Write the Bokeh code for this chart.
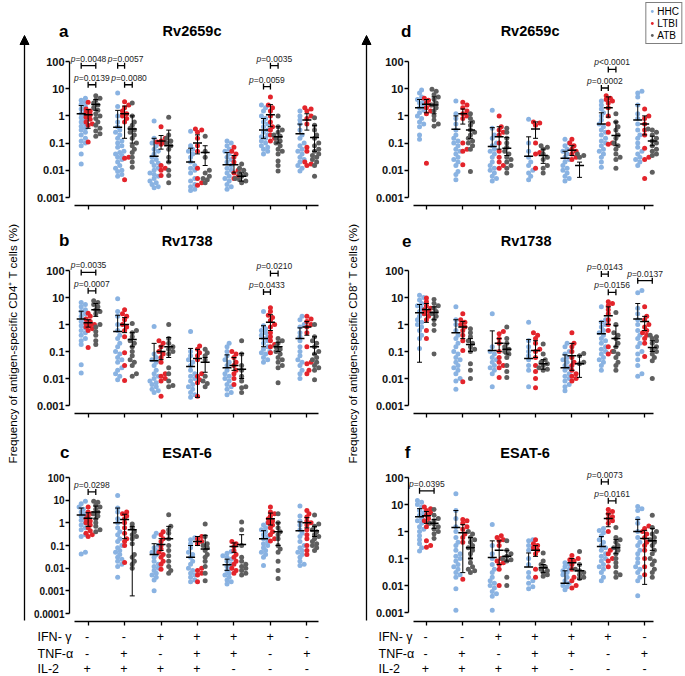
import numpy as np
from bokeh.plotting import figure
from bokeh.layouts import row, column
from bokeh.models import (Range1d, FixedTicker, CustomJSTickFormatter, Arrow,
                          NormalHead, Legend, LegendItem, LinearAxis)
from bokeh.core.properties import value
from bokeh.embed import file_html
from bokeh.resources import INLINE

# ---------------- data ----------------
GROUPS = [1, 2, 3, 4, 5, 6, 7]
SERIES = ["HHC", "LTBI", "ATB"]
IFN = ["-", "-", "+", "+", "+", "+", "-"]
TNF = ["-", "+", "-", "+", "+", "-", "+"]
IL2 = ["+", "+", "+", "+", "-", "-", "-"]
ROW_LABELS = ["IFN- \u03b3", "TNF-\u03b1", "IL-2"]

# Panel a: CD4, Rv2659c
A_HHC = [[4.5,3.8,3.2,2.7,2.2,1.8,1.5,1.2,1.0,0.85,0.7,0.6,0.5,0.42,0.35,0.3,0.25,0.2,0.15,0.12,0.1,0.08,0.04,0.017],
         [7,2.2,1.0,0.6,0.4,0.3,0.25,0.2,0.15,0.12,0.1,0.08,0.07,0.05,0.045,0.04,0.035,0.03,0.025,0.02,0.015,0.012,0.01,0.009,0.007,0.006],
         [0.65,0.15,0.1,0.08,0.06,0.05,0.04,0.03,0.025,0.02,0.018,0.015,0.012,0.01,0.008,0.007,0.006,0.005,0.004,0.0035,0.003,0.0025,0.0023],
         [0.27,0.08,0.06,0.05,0.04,0.03,0.02,0.015,0.012,0.01,0.008,0.005,0.004,0.003,0.0025,0.002,0.0018],
         [0.12,0.1,0.08,0.06,0.05,0.04,0.03,0.025,0.02,0.015,0.012,0.01,0.008,0.006,0.005,0.004,0.003,0.0025,0.002],
         [2.5,2.0,1.5,1.0,0.8,0.6,0.5,0.4,0.3,0.25,0.2,0.17,0.15,0.12,0.1,0.08,0.07,0.06,0.05,0.04],
         [1.5,1.0,0.7,0.5,0.3,0.2,0.15,0.1,0.08,0.06,0.05,0.04,0.03,0.025,0.02,0.015,0.012,0.0095]]
A_LTBI = [[3.2,1.8,1.5,1.3,1.1,0.9,0.75,0.6,0.5,0.45,0.11],
          [3.3,2.5,2.0,1.5,1.2,1.0,0.8,0.6,0.03,0.028,0.0045],
          [0.4,0.15,0.12,0.11,0.1,0.09,0.015,0.012,0.01,0.0065],
          [0.33,0.3,0.25,0.15,0.08,0.05,0.012,0.005,0.0035,0.0028],
          [0.07,0.05,0.04,0.03,0.02,0.01,0.008,0.006,0.005],
          [5.0,2.5,2.0,1.5,1.0,0.6,0.4,0.3,0.2,0.15,0.12],
          [2.0,1.8,1.5,1.0,0.8,0.5,0.07,0.05,0.02,0.017,0.015]]
A_ATB = [[5.5,4.5,3.8,3.0,2.5,2.0,1.6,1.2,1.0,0.8,0.6,0.45,0.35,0.28,0.22,0.18],
         [3.0,1.0,0.6,0.45,0.35,0.3,0.25,0.2,0.15,0.1,0.08,0.06,0.045,0.03,0.02,0.013],
         [0.9,0.2,0.15,0.12,0.1,0.08,0.06,0.03,0.02,0.01,0.0065,0.0035],
         [0.18,0.05,0.03,0.01,0.008,0.006,0.005,0.0045,0.0035],
         [0.017,0.012,0.01,0.008,0.007,0.006,0.005,0.0045,0.004,0.0035],
         [1.0,0.4,0.3,0.25,0.2,0.18,0.15,0.12,0.1,0.08,0.06,0.05,0.04,0.022,0.015,0.0095],
         [0.85,0.45,0.3,0.2,0.15,0.1,0.08,0.06,0.05,0.04,0.035,0.03,0.025,0.02,0.015,0.006]]
A_MEAN = [[1.2,1.1,2.6],[0.38,1.2,0.33],[0.033,0.12,0.08],[0.02,0.1,0.045],[0.016,0.016,0.006],[0.3,1.1,0.17],[0.22,0.7,0.16]]
A_LO = [[0,0.35,1.6],[0,0.15,0.1],[0,0.06,0.02],[0,0.04,0.015],[0,0.008,0.004],[0.15,0.4,0.1],[0,0.3,0.05]]
A_HI = [[2.4,1.7,4.0],[1.6,2.3,1.0],[0.15,0.19,0.3],[0.065,0.2,0.08],[0.045,0.035,0.008],[0.8,2.6,0.4],[0.5,1.2,0.45]]
A_P = [(1,0,2,70,"p=0.0048"),(1,1,2,14,"p=0.0139"),(2,0,1,70,"p=0.0057"),(2,1,2,14,"p=0.0080"),
       (6,1,2,70,"p=0.0035"),(6,0,1,12,"p=0.0059")]

# Panel b: CD4, Rv1738
B_HHC = [[6.5,5.5,4.5,3.5,3.0,2.5,2.0,1.6,1.3,1.1,0.9,0.75,0.6,0.5,0.4,0.3,0.25,0.18,0.032,0.016],
         [9,3.0,2.0,1.0,0.6,0.4,0.3,0.2,0.15,0.1,0.08,0.06,0.05,0.04,0.025,0.02,0.015,0.012,0.009],
         [0.85,0.08,0.06,0.05,0.04,0.03,0.02,0.015,0.012,0.01,0.008,0.007,0.006,0.005,0.004,0.0035,0.003],
         [0.55,0.1,0.07,0.05,0.04,0.03,0.02,0.015,0.012,0.01,0.008,0.006,0.005,0.004,0.003,0.0025,0.002],
         [0.2,0.15,0.1,0.07,0.05,0.04,0.03,0.02,0.015,0.012,0.01,0.008,0.006,0.005,0.004,0.003,0.0025],
         [3.0,0.9,0.7,0.6,0.5,0.4,0.35,0.3,0.25,0.2,0.15,0.12,0.1,0.09,0.08,0.06,0.05,0.04],
         [2.0,1.5,1.0,0.8,0.5,0.35,0.25,0.15,0.1,0.07,0.05,0.04,0.03,0.02,0.015,0.01]]
B_LTBI = [[2.6,2.0,1.6,1.3,1.1,1.0,0.9,0.8,0.7,0.6,0.14],
          [3.5,2.5,2.0,1.5,1.0,0.8,0.6,0.35,0.09,0.03,0.0085],
          [0.25,0.2,0.15,0.1,0.08,0.06,0.04,0.015,0.012,0.01,0.008,0.0022],
          [0.16,0.12,0.09,0.07,0.05,0.015,0.012,0.009,0.007,0.0022],
          [0.1,0.08,0.06,0.04,0.03,0.02,0.015,0.01,0.006],
          [4.2,3.0,2.2,1.8,1.4,1.0,0.8,0.5,0.35,0.25,0.18,0.15,0.09],
          [2.0,1.6,1.3,1.0,0.8,0.5,0.15,0.04,0.035,0.02,0.015]]
B_ATB = [[7.5,6.5,5.5,4.5,3.5,3.0,2.5,1.0,0.8,0.55,0.4,0.25,0.18],
         [1.1,0.6,0.5,0.35,0.25,0.2,0.15,0.1,0.07,0.05,0.04,0.03,0.015,0.012],
         [1.0,0.3,0.2,0.15,0.12,0.1,0.08,0.025,0.015,0.008,0.0055,0.005],
         [0.12,0.09,0.07,0.05,0.012,0.008,0.0065,0.005],
         [0.25,0.08,0.03,0.02,0.012,0.008,0.005,0.0045,0.003],
         [0.3,0.25,0.2,0.15,0.12,0.1,0.08,0.06,0.05,0.04,0.03,0.025,0.007],
         [1.0,0.35,0.25,0.2,0.15,0.1,0.08,0.06,0.05,0.04,0.03,0.025,0.02,0.009]]
B_MEAN = [[1.6,1.15,3.5],[0.55,1.0,0.28],[0.045,0.1,0.15],[0.028,0.055,0.04],[0.025,0.03,0.022],[0.3,1.2,0.15],[0.3,0.8,0.15]]
B_LO = [[0,0.8,2.0],[0,0.5,0.15],[0,0.05,0.06],[0,0.002,0.017],[0,0.02,0.01],[0.15,0.6,0.1],[0,0.4,0.08]]
B_HI = [[3.1,1.5,6.0],[2.2,1.8,0.5],[0.2,0.16,0.33],[0.13,0.12,0.06],[0.075,0.06,0.085],[0.9,2.3,0.22],[0.75,1.3,0.35]]
B_P = [(1,0,2,85,"p=0.0035"),(1,1,2,17.6,"p=0.0007"),(6,1,2,78,"p=0.0210"),(6,0,1,16,"p=0.0433")]

# Panel c: CD4, ESAT-6
C_HHC = [[9,7,5,4,3,2.5,2,1.6,1.3,1.0,0.8,0.6,0.5,0.3,0.25,0.05,0.042],
         [16,4.5,3,1.5,1.0,0.6,0.4,0.3,0.2,0.15,0.1,0.08,0.06,0.05,0.04,0.03,0.025,0.02,0.015,0.012,0.004],
         [0.35,0.25,0.1,0.08,0.06,0.05,0.04,0.03,0.02,0.015,0.012,0.01,0.008,0.006,0.005,0.004,0.003,0.001],
         [0.22,0.18,0.12,0.08,0.05,0.04,0.03,0.02,0.015,0.01,0.008,0.006,0.005,0.004,0.003,0.0025],
         [0.055,0.045,0.035,0.03,0.025,0.02,0.015,0.012,0.01,0.008,0.006,0.005,0.004,0.003,0.0025,0.002],
         [1.0,0.8,0.6,0.5,0.4,0.3,0.25,0.2,0.15,0.12,0.1,0.08,0.06,0.05,0.04,0.03,0.013],
         [5.5,2,1.2,0.8,0.5,0.35,0.25,0.15,0.1,0.08,0.06,0.05,0.04,0.03,0.02,0.015,0.013]]
C_LTBI = [[5,3,2.5,2,1.5,1.2,1.0,0.8,0.6,0.45,0.35,0.3,0.25],
          [3.0,2.5,2.0,1.5,1.0,0.6,0.35,0.2,0.15,0.1,0.018],
          [0.4,0.3,0.2,0.15,0.1,0.07,0.05,0.04,0.03,0.02,0.015,0.009],
          [0.25,0.2,0.15,0.12,0.01,0.008,0.006,0.005,0.0025],
          [0.15,0.12,0.09,0.06,0.04,0.03,0.02,0.015,0.01,0.008,0.006],
          [5.0,3.0,2.5,2.0,1.5,1.2,1.0,0.8,0.6,0.4,0.3,0.2,0.16],
          [3.5,2.5,1.8,1.2,1.0,0.8,0.5,0.3,0.2,0.1,0.06,0.04]]
C_ATB = [[9,8,6,5,4,3,2.5,2,1.5,1.0,0.7,0.5,0.4],
         [0.9,0.6,0.4,0.3,0.25,0.2,0.12,0.04,0.03,0.02,0.015,0.01],
         [2.3,0.7,0.5,0.35,0.2,0.1,0.06,0.035,0.02,0.012,0.008,0.006],
         [0.9,0.25,0.12,0.1,0.08,0.06,0.04,0.03,0.02,0.012,0.006,0.0028],
         [1.1,0.5,0.1,0.03,0.02,0.015,0.012,0.01,0.008,0.006,0.005],
         [2.5,1.0,0.6,0.4,0.3,0.2,0.1,0.07,0.05,0.02,0.008,0.0035],
         [2.2,0.9,0.7,0.5,0.4,0.3,0.25,0.2,0.15,0.12,0.1,0.08,0.06]]
C_MEAN = [[2.2,1.6,3.0],[1.0,1.4,0.5],[0.04,0.11,0.2],[0.03,0.15,0.07],[0.014,0.09,0.11],[0.2,1.5,0.4],[0.45,1.0,0.45]]
C_LO = [[0,0.7,1.5],[0,0.2,0.0006],[0,0.06,0],[0,0.1,0],[0.008,0.05,0],[0,0.8,0.1],[0,0.6,0.25]]
C_HI = [[4.5,2.8,5.5],[4.5,2.4,0.7],[0.12,0.2,0.7],[0.1,0.25,0.28],[0.025,0.13,0.3],[0.45,2.7,1.0],[1.1,1.7,0.7]]
C_P = [(1,1,2,23,"p=0.0298")]

# Panel d: CD8, Rv2659c
D_HHC = [[9,7,5,4,3.5,3,2.5,2,1.6,1.3,1.0,0.8,0.6,0.5,0.4,0.2,0.14],
         [3.5,1.2,0.8,0.5,0.3,0.2,0.15,0.12,0.1,0.08,0.06,0.05,0.04,0.03,0.025,0.02,0.015,0.009,0.007,0.0045],
         [1.6,0.35,0.2,0.15,0.1,0.08,0.06,0.05,0.04,0.03,0.02,0.015,0.012,0.01,0.008,0.006,0.005,0.004],
         [0.75,0.1,0.05,0.03,0.02,0.015,0.01,0.008,0.006,0.0045],
         [0.14,0.1,0.08,0.06,0.05,0.04,0.03,0.025,0.02,0.015,0.012,0.01,0.008,0.006,0.005,0.004],
         [3.5,2.5,1.8,1.3,1.0,0.7,0.5,0.4,0.3,0.25,0.2,0.15,0.12,0.1,0.08,0.06,0.05,0.04,0.03,0.02,0.013],
         [8,7,5,2.5,1.2,0.8,0.5,0.3,0.2,0.15,0.1,0.07,0.05,0.04,0.03,0.025,0.02,0.015]]
D_LTBI = [[4.5,3.8,3.0,2.5,2.0,1.5,1.2,0.018],
          [3.2,2.5,2.0,1.5,1.2,1.0,0.8,0.1,0.06,0.05,0.016],
          [1.0,0.4,0.3,0.25,0.2,0.1,0.05,0.03,0.02,0.015,0.012],
          [0.6,0.55,0.45,0.1,0.045,0.04,0.012],
          [0.14,0.1,0.08,0.06,0.05,0.04,0.03,0.025],
          [5.5,4.5,4.0,3.5,3.0,2.0,1.0,0.5,0.25,0.1,0.09],
          [1.8,1.0,0.8,0.5,0.3,0.2,0.065,0.03,0.025,0.005]]
D_ATB = [[9.5,8,6,5,4,3,2.5,2,1.5,1,0.7,0.5,0.42],
         [1.2,0.8,0.6,0.45,0.3,0.25,0.2,0.15,0.12,0.1,0.08,0.06,0.009],
         [0.35,0.25,0.15,0.1,0.07,0.05,0.04,0.03,0.025,0.02,0.015,0.012,0.008],
         [0.08,0.07,0.06,0.04,0.03,0.025,0.015,0.012,0.008],
         [0.04,0.035,0.03],
         [1.2,0.6,0.4,0.3,0.2,0.15,0.1,0.08,0.06,0.04,0.03,0.025,0.012],
         [0.33,0.3,0.25,0.2,0.15,0.12,0.1,0.08,0.06,0.05,0.04,0.035,0.0085]]
D_MEAN = [[2.0,2.7,2.5],[0.32,1.2,0.3],[0.075,0.17,0.065],[0.033,0.33,0.035],[0.028,0.055,0.015],[0.5,2.0,0.19],[0.7,0.5,0.12]]
D_LO = [[0,1.3,1.2],[0,0.5,0.15],[0,0.06,0.035],[0,0.15,0.018],[0,0.035,0.0055],[0,0.9,0.08],[0,0.2,0.08]]
D_HI = [[4.0,4.0,5.0],[1.0,1.8,0.6],[0.37,0.4,0.16],[0.17,0.6,0.06],[0.05,0.08,0.02],[1.3,5.0,0.6],[2.6,1.0,0.18]]
D_P = [(6,1,2,51,"p<0.0001"),(6,0,1,10.6,"p=0.0002")]

# Panel e: CD8, Rv1738
E_HHC = [[12,10,8,6,5,4,3,2.5,2,1.5,1.2,1,0.8,0.6,0.4,0.3,0.13],
         [4.5,1.5,1.0,0.6,0.4,0.3,0.2,0.15,0.1,0.08,0.06,0.05,0.04,0.03,0.025,0.02,0.015,0.01,0.008,0.004],
         [2.5,0.15,0.1,0.08,0.06,0.05,0.04,0.03,0.025,0.02,0.015,0.005],
         [1.2,0.25,0.15,0.1,0.07,0.05,0.03,0.02,0.005],
         [0.2,0.15,0.1,0.08,0.06,0.05,0.04,0.03,0.025,0.02,0.015,0.012,0.01,0.008,0.006,0.005,0.0035],
         [4.5,1.5,1.2,1.0,0.8,0.6,0.5,0.4,0.3,0.25,0.2,0.15,0.12,0.1,0.08,0.06,0.05,0.04,0.03,0.02],
         [18,15,4,2.5,1.5,1.0,0.6,0.4,0.3,0.2,0.15,0.1,0.08,0.05,0.03,0.015,0.012]]
E_LTBI = [[9.5,7,5,4,3.5,3,2.5,2,1.5,0.6,0.3],
          [2.5,1.5,1.2,1.0,0.8,0.6,0.4,0.25,0.11,0.0075],
          [0.55,0.45,0.3,0.2,0.1,0.06,0.04,0.03,0.025,0.011],
          [0.5,0.4,0.3,0.2,0.12,0.1,0.06,0.03,0.018,0.01,0.0045],
          [0.5,0.2,0.15,0.1,0.06,0.04,0.03,0.02,0.015,0.012,0.01,0.008],
          [7,6,5,3.5,2.5,1.5,1.0,0.6,0.15,0.1,0.08],
          [4.5,2,1.5,1.0,0.8,0.6,0.5,0.4,0.3,0.2,0.065]]
E_ATB = [[8.5,6,5,4,3,2.5,2,1.5,1.0,0.6,0.08],
         [0.7,0.5,0.35,0.25,0.2,0.15,0.12,0.1,0.035,0.02,0.01],
         [0.8,0.3,0.2,0.15,0.12,0.1,0.08,0.06,0.03,0.018,0.011],
         [0.19,0.08,0.05,0.04,0.035,0.03,0.025,0.022,0.02],
         [0.085,0.07,0.04,0.035],
         [2.8,1.0,0.5,0.4,0.3,0.2,0.15,0.1,0.08,0.06,0.04,0.03,0.02],
         [0.4,0.35,0.3,0.25,0.2,0.15,0.12,0.1,0.08,0.06,0.045,0.01]]
E_MEAN = [[2.7,3.6,2.8],[0.5,0.8,0.18],[0.11,0.2,0.12],[0.055,0.11,0.035],[0.025,0.07,0.035],[0.45,2.1,0.3],[1.6,1.3,0.14]]
E_LO = [[0.04,1.2,1.5],[0,0.3,0.1],[0,0.1,0.08],[0,0.06,0.022],[0,0.02,0.011],[0,1.0,0.15],[0,0.6,0.1]]
E_HI = [[5.5,6.0,4.5],[1.5,1.3,0.3],[0.58,0.3,0.2],[0.28,0.25,0.05],[0.075,0.2,0.07],[1.3,4.5,0.9],[6.0,2.0,0.25]]
E_P = [(6,0,1,74,"p=0.0143"),(6,1,2,15.6,"p=0.0156"),(7,0,2,42,"p=0.0137")]

# Panel f: CD8, ESAT-6
F_HHC = [[14,12,10,8,6,5,4,3,2.5,2,1.5,1.2,1.0,0.7,0.5,0.35,0.25,0.19],
         [25,6,3,1.5,1.0,0.6,0.4,0.3,0.2,0.15,0.12,0.1,0.08,0.06,0.05,0.04,0.03,0.025,0.02,0.0075,0.0012],
         [1.8,0.3,0.15,0.1,0.06,0.04,0.03,0.02,0.015,0.012,0.01,0.008,0.006,0.005,0.004,0.0012],
         [0.5,0.45,0.3,0.25,0.2,0.1,0.06,0.03,0.02,0.015,0.012,0.009,0.0075],
         [0.07,0.06,0.05,0.04,0.035,0.03,0.025,0.02,0.015,0.012,0.01,0.009,0.007],
         [1.3,1.1,0.9,0.7,0.5,0.4,0.3,0.25,0.2,0.15,0.12,0.1,0.08,0.06,0.05,0.04,0.03,0.02,0.015],
         [8.5,7,6,3,2,1.0,0.6,0.4,0.3,0.2,0.15,0.1,0.07,0.05,0.04,0.03,0.02,0.015,0.0042]]
F_LTBI = [[8,7,6,5,4,3,2.5,2,1.5,0.45,0.3,0.26],
          [2.8,2.5,2.0,1.5,1.2,0.8,0.6,0.4,0.017],
          [0.7,0.6,0.5,0.45,0.3,0.1,0.08,0.07,0.06,0.04,0.01],
          [0.5,0.35,0.3,0.25,0.2,0.15,0.04,0.02],
          [0.13,0.1,0.09,0.08,0.06,0.04,0.02,0.015,0.01,0.008],
          [6.5,5.5,4.5,3.5,3.0,2.5,2.0,1.0,0.2,0.15,0.1,0.08,0.05],
          [1.6,1.3,1.0,0.8,0.6,0.4,0.3,0.2,0.1,0.05,0.025]]
F_ATB = [[6.5,4,3,2.5,2,1.8,1.5,1.2,1.0,0.8,0.55],
         [1.0,0.8,0.6,0.5,0.4,0.3,0.25,0.2,0.15,0.1,0.07,0.05,0.04,0.035,0.03],
         [0.45,0.2,0.15,0.12,0.1,0.09,0.08,0.02,0.01],
         [0.16,0.08,0.06,0.05,0.04,0.035,0.03,0.025,0.022],
         [0.18,0.06,0.04,0.035,0.03,0.025,0.02,0.018],
         [1.4,0.6,0.5,0.4,0.3,0.25,0.2,0.15,0.1,0.07,0.05,0.03,0.025,0.02],
         [4.0,1.4,1.0,0.8,0.6,0.5,0.4,0.3,0.2,0.15,0.1,0.08,0.06,0.04,0.03,0.02]]
F_MEAN = [[3.5,3.8,2.0],[1.4,0.9,0.25],[0.11,0.2,0.12],[0.048,0.2,0.045],[0.012,0.07,0.035],[0.28,3.0,0.25],[1.0,0.55,0.45]]
F_LO = [[0,2.0,1.3],[0,0.03,0.1],[0,0.06,0.08],[0,0.12,0.03],[0,0.04,0.017],[0,1.5,0.15],[0,0.011,0.2]]
F_HI = [[7.0,5.5,2.8],[6.0,1.8,0.6],[0.45,0.45,0.2],[0.16,0.3,0.06],[0.035,0.1,0.06],[0.65,4.5,0.5],[2.8,1.1,1.3]]
F_P = [(1,0,2,32,"p=0.0395"),(6,0,1,69,"p=0.0073"),(6,1,2,13.7,"p=0.0161")]

# ---------------- style / layout ----------------
COLORS = {"HHC": "#8ab3e2", "LTBI": "#e3242b", "ATB": "#5e5e5e"}
SERIES_OFF = [-0.19, 0.0, 0.21]
FONT = "Liberation Sans"
DOT = 5.0

LEFT = dict(canvas_x=30, frame_x0=68, frame_x1=330, gx1=86.7, step=36.6, width=310,
            axis_x0=73, axis_x1=318)
RIGHT = dict(canvas_x=372, frame_x0=407, frame_x1=684, gx1=425.0, step=36.5, width=312,
             axis_x0=412, axis_x1=653)
ROWS = [dict(htop=0, top=46, bottom=205, end=211),
        dict(htop=211, top=257, bottom=413, end=419),
        dict(htop=419, top=466, bottom=621, end=627)]


def xdata(col, px):
    return 1 + (px - col["gx1"]) / col["step"]


def swarm(vals, ppd, dot=3.4, step=2.1):
    ys = np.log10(np.array(vals, dtype=float)) * ppd
    order = np.argsort(ys)
    placed = []
    offs = np.zeros(len(vals))
    for i in order:
        chosen = 0.0
        for k in [0, 1, -1, 2, -2, 3, -3]:
            ox = k * step
            if all((ox - px) ** 2 + (ys[i] - py) ** 2 >= dot ** 2 for px, py in placed):
                chosen = ox
                break
        placed.append((chosen, ys[i]))
        offs[i] = chosen
    return offs


def text_w(s, fs):
    w = 0.0
    for ch in s:
        if ch == ".":
            w += 0.278
        elif ch in "=<":
            w += 0.584
        else:
            w += 0.556
    return w * fs


def blank_fig(x0, x1, y0, y1):
    f = figure(width=int(x1 - x0), height=int(y1 - y0), title=None,
               x_range=Range1d(x0, x1), y_range=Range1d(-y1, -y0),
               min_border=0, toolbar_location=None, output_backend="svg",
               x_axis_location=None, y_axis_location=None)
    f.outline_line_color = None
    f.grid.visible = False
    return f


def build_header(col, rc, spec, legend=False):
    h = figure(width=col["width"], height=rc["top"] - rc["htop"], title=None,
               x_range=Range1d(xdata(col, col["frame_x0"]), xdata(col, col["frame_x1"])),
               y_range=Range1d(-rc["top"], -rc["htop"]),
               min_border_left=col["frame_x0"] - col["canvas_x"],
               min_border_right=col["canvas_x"] + col["width"] - col["frame_x1"],
               min_border_top=0, min_border_bottom=0,
               toolbar_location=None, output_backend="svg",
               x_axis_location=None, y_axis_location=None)
    h.outline_line_color = None
    h.grid.visible = False
    lx, ly = spec["letter"]
    ax = LinearAxis(ticker=FixedTicker(ticks=[-ly], minor_ticks=[]),
                    formatter=CustomJSTickFormatter(code="return '%s';" % spec["L"]),
                    axis_line_color=None, major_tick_line_color=None,
                    major_tick_in=0, major_tick_out=0,
                    major_label_standoff=col["frame_x0"] - lx - 6,
                    major_label_text_font=FONT, major_label_text_font_size="17px",
                    major_label_text_font_style="bold", major_label_text_color="black")
    h.add_layout(ax, "left")
    tx, ty = spec["tpos"]
    h.text(x=[xdata(col, tx)], y=[-ty], text=[spec["title"]], text_align="center",
           text_baseline="middle", text_font=value(FONT), text_font_size="14.5px",
           text_font_style="bold", text_color="black")
    if legend:
        far = xdata(col, col["frame_x0"]) - 50
        rs = [h.scatter(x=[far], y=[-10], marker="circle", size=DOT, fill_color=COLORS[n],
                        line_color=None) for n in SERIES]
        leg = Legend(items=[LegendItem(label=n, renderers=[r]) for n, r in zip(SERIES, rs)],
                     location="top_right", border_line_color="black", border_line_width=1,
                     label_text_font=FONT, label_text_font_size="10px",
                     label_text_color="black", glyph_width=7,
                     glyph_height=12, label_height=12, label_standoff=2, padding=2,
                     spacing=0, margin=2, background_fill_alpha=1)
        h.add_layout(leg)
    return h


def build_panel(col, rc, spec, series_data, mean, lo, hi, pvals):
    height = rc["end"] - rc["top"]
    y_end = 10 ** (2 + (spec["y100"] - rc["top"]) / spec["ppd"])
    y_start = 10 ** (2 - (rc["bottom"] - spec["y100"]) / spec["ppd"])
    p = figure(width=col["width"], height=height, title=None,
               x_range=Range1d(xdata(col, col["frame_x0"]), xdata(col, col["frame_x1"])),
               y_range=Range1d(y_start, y_end), y_axis_type="log",
               output_backend="svg", toolbar_location=None,
               min_border_left=col["frame_x0"] - col["canvas_x"],
               min_border_right=col["canvas_x"] + col["width"] - col["frame_x1"],
               min_border_top=0,
               min_border_bottom=rc["end"] - rc["bottom"])
    p.outline_line_color = None
    p.grid.visible = False

    ticks = [10.0 ** e for e in range(spec["emin"], 3)]
    ya = p.yaxis[0]
    ya.ticker = FixedTicker(ticks=ticks, minor_ticks=[])
    ya.formatter = CustomJSTickFormatter(code="return tick.toString();")
    ya.bounds = (ticks[0], 100)
    ya.major_label_text_font_size = spec["tfs"]
    ya.major_label_text_font_style = "bold"
    ya.major_label_text_font = FONT
    ya.major_label_text_color = "#111111"
    ya.major_tick_out = 4
    ya.major_tick_in = 0
    ya.major_label_standoff = 1
    ya.axis_line_width = 1.3
    ya.major_tick_line_width = 1.3

    xa = p.xaxis[0]
    xa.ticker = FixedTicker(ticks=GROUPS, minor_ticks=[])
    xa.formatter = CustomJSTickFormatter(code="return '';")
    xa.bounds = (xdata(col, col["axis_x0"]), xdata(col, col["axis_x1"]))
    xa.major_label_standoff = 0
    xa.major_tick_out = 4
    xa.major_tick_in = 0
    xa.axis_line_width = 1.3
    xa.major_tick_line_width = 1.3

    for si, (name, data) in enumerate(zip(SERIES, series_data)):
        xs, ys = [], []
        for g, vals in enumerate(data):
            offs = swarm(vals, spec["ppd"])
            for v, o in zip(vals, offs):
                xs.append(GROUPS[g] + SERIES_OFF[si] + o / col["step"])
                ys.append(v)
        p.scatter(xs, ys, size=DOT, marker="circle", fill_color=COLORS[name], line_color=None)

    bx, bm, blo, bhi, capx, capy = [], [], [], [], [], []
    for g in range(len(GROUPS)):
        for si in range(3):
            x = GROUPS[g] + SERIES_OFF[si]
            m = mean[g][si]
            l = lo[g][si] if lo[g][si] > 0 else m
            bx.append(x); bm.append(m); blo.append(l); bhi.append(hi[g][si])
            capx.append(x); capy.append(hi[g][si])
            if lo[g][si] > 0:
                capx.append(x); capy.append(l)
    p.segment(x0=bx, y0=blo, x1=bx, y1=bhi, line_color="black", line_width=1)
    p.scatter(capx, capy, marker="dash", size=5, line_color="black", line_width=1)
    p.scatter(bx, bm, marker="dash", size=9, line_color="black", line_width=1.5)

    # p-value brackets; labels on the same level are nudged apart if they collide
    fs = 8.5
    items = []
    for (g, s1, s2, yv, txt) in pvals:
        x1 = g + SERIES_OFF[s1]
        x2 = g + SERIES_OFF[s2]
        total = text_w(txt, fs)
        cpx = col["gx1"] + ((x1 + x2) / 2 - 1) * col["step"]
        items.append(dict(x1=x1, x2=x2, y=yv, txt=txt, total=total, left=cpx - total / 2))
    for it in items:
        it["shift"] = 0.0
    by_level = {}
    for it in items:
        by_level.setdefault(round(it["y"], 3), []).append(it)
    for lvl in by_level.values():
        lvl.sort(key=lambda d: d["left"])
        prev_right = None
        for it in lvl:
            left = it["left"]
            if prev_right is not None and left < prev_right + 1.5:
                it["shift"] = prev_right + 1.5 - left
            prev_right = left + it["shift"] + it["total"]

    for it in items:
        x1, x2, yv, txt = it["x1"], it["x2"], it["y"], it["txt"]
        p.segment(x0=[x1], y0=[yv], x1=[x2], y1=[yv], line_color="black", line_width=1.3)
        p.scatter([x1, x2], [yv, yv], marker="dash", angle=np.pi / 2, size=6,
                  line_color="black", line_width=1.3)
        split = -it["total"] / 2 + 0.556 * fs + it["shift"]
        xc = (x1 + x2) / 2
        p.text(x=[xc], y=[yv], text=[txt[0]], text_align="right", text_baseline="bottom",
               x_offset=split, y_offset=-2, text_font=value(FONT), text_font_size=f"{fs}px",
               text_font_style="italic", text_color="#222222")
        p.text(x=[xc], y=[yv], text=[txt[1:]], text_align="left", text_baseline="bottom",
               x_offset=split, y_offset=-2, text_font=value(FONT), text_font_size=f"{fs}px",
               text_color="#222222")
    return p


SPECS = {
    "a": dict(L="a", title="Rv2659c", y100=61, ppd=27.2, emin=-3, tfs="11px", letter=(61, 31), tpos=(191, 30)),
    "b": dict(L="b", title="Rv1738", y100=270, ppd=27.0, emin=-3, tfs="11px", letter=(62, 240), tpos=(186, 240)),
    "c": dict(L="c", title="ESAT-6", y100=477, ppd=22.67, emin=-4, tfs="10px", letter=(62, 452), tpos=(186, 452)),
    "d": dict(L="d", title="Rv2659c", y100=61, ppd=27.2, emin=-3, tfs="11px", letter=(404, 31), tpos=(529, 30)),
    "e": dict(L="e", title="Rv1738", y100=270, ppd=27.0, emin=-3, tfs="11px", letter=(404, 240), tpos=(525, 240)),
    "f": dict(L="f", title="ESAT-6", y100=477, ppd=27.0, emin=-3, tfs="11px", letter=(403, 452), tpos=(524, 452)),
}

left_items, right_items = [], []
for key, rc, dat in [("a", ROWS[0], (A_HHC, A_LTBI, A_ATB, A_MEAN, A_LO, A_HI, A_P)),
                     ("b", ROWS[1], (B_HHC, B_LTBI, B_ATB, B_MEAN, B_LO, B_HI, B_P)),
                     ("c", ROWS[2], (C_HHC, C_LTBI, C_ATB, C_MEAN, C_LO, C_HI, C_P))]:
    left_items.append(build_header(LEFT, rc, SPECS[key]))
    left_items.append(build_panel(LEFT, rc, SPECS[key], dat[:3], dat[3], dat[4], dat[5], dat[6]))
for key, rc, dat in [("d", ROWS[0], (D_HHC, D_LTBI, D_ATB, D_MEAN, D_LO, D_HI, D_P)),
                     ("e", ROWS[1], (E_HHC, E_LTBI, E_ATB, E_MEAN, E_LO, E_HI, E_P)),
                     ("f", ROWS[2], (F_HHC, F_LTBI, F_ATB, F_MEAN, F_LO, F_HI, F_P))]:
    right_items.append(build_header(RIGHT, rc, SPECS[key], legend=(key == "d")))
    right_items.append(build_panel(RIGHT, rc, SPECS[key], dat[:3], dat[3], dat[4], dat[5], dat[6]))


def label_fig(x0, x1, arrow_x, text_x, text):
    f = blank_fig(x0, x1, 0, 627)
    f.add_layout(Arrow(end=NormalHead(size=9, fill_color="black", line_color="black", line_width=1),
                       x_start=arrow_x, y_start=-620, x_end=arrow_x, y_end=-35,
                       line_width=1.3, line_color="black"))
    f.text(x=[text_x], y=[-343], text=[text], angle=np.pi / 2, text_align="center",
           text_baseline="middle", text_font=value(FONT), text_font_size="11.6px",
           text_color="black")
    return f


labL = label_fig(0, 30, 24, 12, "Frequency of antigen-specific CD4\u207a T cells (%)")
labR = label_fig(340, 372, 366, 352, "Frequency of antigen-specific CD8\u207a T cells (%)")

TABLE_TOP, TABLE_BOTTOM = 627, 675
ROW_Y = [636, 653, 668]


def table_fig(x0, x1, col, label_px):
    t = figure(width=x1 - x0, height=TABLE_BOTTOM - TABLE_TOP, title=None,
               x_range=Range1d(xdata(col, x0), xdata(col, x1)),
               y_range=Range1d(-TABLE_BOTTOM, -TABLE_TOP),
               min_border=0, toolbar_location=None, output_backend="svg",
               x_axis_location=None, y_axis_location=None)
    t.outline_line_color = None
    t.grid.visible = False
    for lab, signs, py in zip(ROW_LABELS, [IFN, TNF, IL2], ROW_Y):
        t.text(x=[xdata(col, label_px)], y=[-py], text=[lab], text_align="left",
               text_baseline="middle", text_font=value(FONT), text_font_size="12.5px",
               text_color="black")
        t.text(x=GROUPS, y=[-py] * len(GROUPS), text=signs, text_align="center",
               text_baseline="middle", text_font=value(FONT), text_font_size="12.5px",
               text_color="black")
    return t


tabL = table_fig(0, 340, LEFT, 37)
tabR = table_fig(340, 684, RIGHT, 378)

root = column(row(labL, column(*left_items), labR, column(*right_items)),
              row(tabL, tabR))

open("out.html", "w").write(file_html(root, INLINE))
